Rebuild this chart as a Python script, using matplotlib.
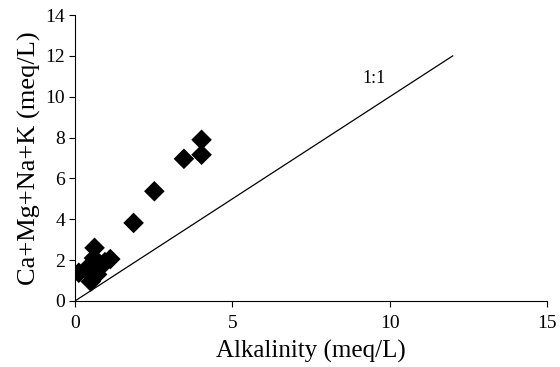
import numpy as np
import matplotlib.pyplot as plt

plt.rcParams['font.family'] = ['Liberation Serif', 'DejaVu Serif']

# sample values
alkalinity = [0.12, 0.35, 0.50, 0.62, 0.60, 0.80, 0.95, 1.12, 0.70,
              1.86, 2.52, 3.46, 4.02, 4.02]
cations = [1.38, 1.55, 0.95, 2.60, 2.10, 1.65, 1.90, 2.05, 1.30,
           3.82, 5.37, 6.96, 7.16, 7.89]
line_x = [0, 12]
line_y = [0, 12]


def main():
    fig = plt.figure(figsize=(5.6, 3.67), dpi=100)
    ax = fig.add_axes([0.134, 0.180, 0.843, 0.779])

    ax.plot(line_x, line_y, color='black', lw=0.9)
    ax.scatter(alkalinity, cations, marker='D', s=110, color='black',
               edgecolors='none', zorder=3)
    ax.text(9.5, 10.9, '1:1', fontsize=13, ha='center', va='center')

    ax.set_xlim(0, 15)
    ax.set_ylim(0, 14)
    ax.set_xticks([0, 5, 10, 15])
    ax.set_yticks(range(0, 15, 2))
    ax.spines['top'].set_visible(False)
    ax.spines['right'].set_visible(False)
    ax.tick_params(labelsize=14, direction='out', length=4)
    ax.tick_params(axis='x', pad=6)
    ax.tick_params(axis='y', pad=3)
    ax.set_xlabel('Alkalinity (meq/L)', fontsize=18, labelpad=6)
    ax.set_ylabel('Ca+Mg+Na+K (meq/L)', fontsize=19, labelpad=3)

    fig.savefig('out.png', dpi=100)


if __name__ == '__main__':
    main()
